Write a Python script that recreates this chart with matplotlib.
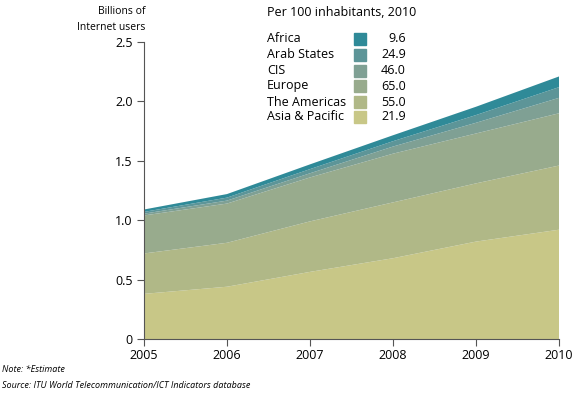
import matplotlib.pyplot as plt
from matplotlib.patches import Rectangle

plt.rcParams['font.family'] = ['Open Sans', 'DejaVu Sans']

years = [2005, 2006, 2007, 2008, 2009, 2010]

# billions of users per region (stacked bottom to top)
asia = [0.38, 0.44, 0.565, 0.68, 0.82, 0.92]
americas = [0.34, 0.37, 0.425, 0.47, 0.49, 0.54]
europe = [0.32, 0.33, 0.37, 0.41, 0.42, 0.44]
cis = [0.015, 0.025, 0.035, 0.06, 0.09, 0.13]
arab = [0.015, 0.025, 0.035, 0.045, 0.065, 0.09]
africa = [0.02, 0.03, 0.04, 0.05, 0.07, 0.09]

regions = ['Africa', 'Arab States', 'CIS', 'Europe', 'The Americas', 'Asia & Pacific']
per100 = ['9.6', '24.9', '46.0', '65.0', '55.0', '21.9']
colors = ['#2f8a98', '#5d9598', '#7fa094', '#98ab8d', '#b0b887', '#c8c787']

fig = plt.figure(figsize=(5.77, 3.96), dpi=100)
ax = fig.add_axes([144/577, 1-339/396, (559-144)/577, (339-42)/396])

series = [asia, americas, europe, cis, arab, africa]
ax.stackplot(years, *series, colors=colors[::-1], linewidth=0)

ax.set_xlim(2005, 2010)
ax.set_ylim(0, 2.5)
ax.set_xticks(years)
ax.set_yticks([0, 0.5, 1.0, 1.5, 2.0, 2.5])
ax.set_yticklabels(['0', '0.5', '1.0', '1.5', '2.0', '2.5'])
for s in ['top', 'right']:
    ax.spines[s].set_visible(False)
for s in ['left', 'bottom']:
    ax.spines[s].set_color('#555555')
    ax.spines[s].set_linewidth(0.8)
ax.tick_params(axis='both', colors='#555555', labelcolor='black', labelsize=9,
               length=5, width=0.8)
ax.tick_params(axis='y', pad=3)
ax.tick_params(axis='x', pad=2)

fig.text(145/577, 1-12/396, 'Billions of', ha='right', va='center', fontsize=7.5)
fig.text(145/577, 1-27/396, 'Internet users', ha='right', va='center', fontsize=7.5)

fig.text(267/577, 1-12/396, 'Per 100 inhabitants, 2010', ha='left', va='center', fontsize=9)
row_y = [39, 55, 71, 86, 102, 117]
for name, val, col, y in zip(regions, per100, colors, row_y):
    fig.text(267/577, 1-y/396, name, ha='left', va='center', fontsize=9)
    fig.patches.append(Rectangle((354/577, 1-(y+6)/396), 12/577, 12/396,
                                 transform=fig.transFigure, color=col, figure=fig))
    fig.text(406/577, 1-y/396, val, ha='right', va='center', fontsize=9)

fig.text(2/577, 1-370/396, 'Note: *Estimate', ha='left', va='center', fontsize=6.5, style='italic')
fig.text(2/577, 1-386/396, 'Source: ITU World Telecommunication/ICT Indicators database',
         ha='left', va='center', fontsize=6.5, style='italic')

fig.savefig('out.png', dpi=100)
